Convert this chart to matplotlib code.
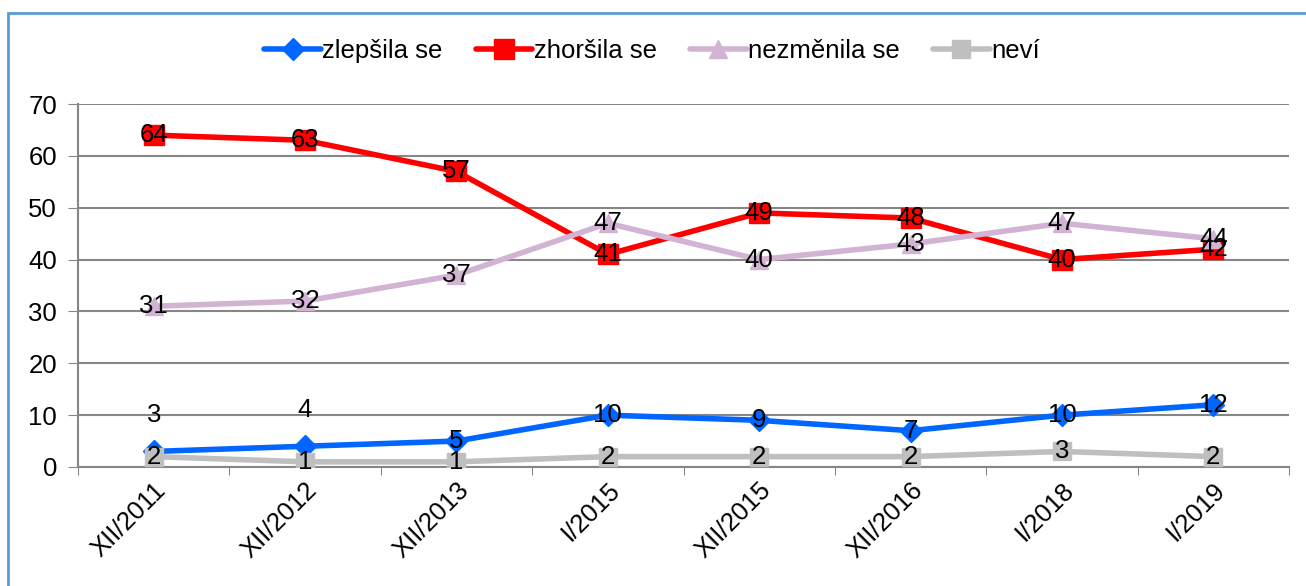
import matplotlib
matplotlib.use("Agg")
import matplotlib.pyplot as plt
from matplotlib.patches import Rectangle

plt.rcParams['font.family'] = ['Liberation Sans', 'DejaVu Sans']

categories = ["XII/2011", "XII/2012", "XII/2013", "I/2015", "XII/2015", "XII/2016", "I/2018", "I/2019"]
zlepsila = [3, 4, 5, 10, 9, 7, 10, 12]
zhorsila = [64, 63, 57, 41, 49, 48, 40, 42]
nezmenila = [31, 32, 37, 47, 40, 43, 47, 44]
nevi = [2, 1, 1, 2, 2, 2, 3, 2]

W, H = 1306, 586
fig = plt.figure(figsize=(W/100, H/100), dpi=100)
ax = fig.add_axes([78/W, 1-467/H, (1289-78)/W, (467-104)/H])

fig.patches.append(Rectangle((8/W, -0.1), 1.2, 1-13/H+0.1, transform=fig.transFigure,
                             fill=False, edgecolor='#5B9BD5', linewidth=2))

x = list(range(len(categories)))
series = [
    ("zlepšila se", zlepsila, '#0066FF', 'D', 11),
    ("zhoršila se", zhorsila, '#FF0000', 's', 14),
    ("nezměnila se", nezmenila, '#D2B3D3', '^', 13),
    ("neví", nevi, '#BFBFBF', 's', 13),
]
order = [3, 2, 1, 0]
for i in order:
    name, vals, col, m, ms = series[i]
    ax.plot(x, vals, color=col, linewidth=4, marker=m, markersize=ms,
            markeredgecolor=col, label=name, zorder=3+i, solid_capstyle='round')

for i in order:
    name, vals, col, m, ms = series[i]
    for xi, v in zip(x, vals):
        yoff = 0
        if name == "zlepšila se" and xi < 2:
            yoff = 7
        ax.text(xi, v + yoff, str(v), ha='center', va='center', fontsize=18.5, color='black', zorder=10)

ax.set_xlim(-0.5, len(categories)-0.5)
ax.set_ylim(0, 70)
ax.set_yticks(range(0, 71, 10))
ax.set_xticks([i - 0.5 for i in range(len(categories)+1)], minor=False)
ax.set_xticklabels([])
ax.set_xticks(x, minor=True)
ax.set_xticklabels(categories, minor=True, rotation=45, ha='right', rotation_mode='anchor', fontsize=18.5)
ax.tick_params(axis='x', which='minor', length=0, pad=8)
ax.tick_params(axis='x', which='major', length=6, color='#868686', direction='out')
ax.tick_params(axis='y', labelsize=18.5, length=7, color='#868686', direction='out', pad=8)
ax.grid(axis='y', color='#868686', linewidth=1.5)
ax.set_axisbelow(True)
for s in ['top', 'right']:
    ax.spines[s].set_visible(False)
ax.spines['left'].set_color('#868686')
ax.spines['bottom'].set_color('#868686')
ax.spines['left'].set_linewidth(1.5)
ax.spines['bottom'].set_linewidth(1.5)

handles, labels = ax.get_legend_handles_labels()
hmap = dict(zip(labels, handles))
names = [s[0] for s in series]
fig.legend([hmap[n] for n in names], names, loc='center', bbox_to_anchor=(652/W, 1-51/H),
           ncol=4, frameon=False, fontsize=18.5, handlelength=2.2, handletextpad=0.05, columnspacing=1.3)

fig.savefig("out.png", dpi=100)
